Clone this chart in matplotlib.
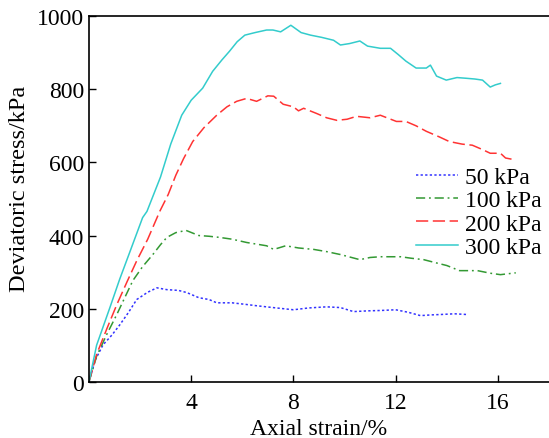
import matplotlib
matplotlib.use("Agg")
import matplotlib.pyplot as plt

plt.rcParams['font.family'] = ['Liberation Serif', 'DejaVu Serif']

labels = ["50 kPa", "100 kPa", "200 kPa", "300 kPa"]

x50 = [0, 0.25, 0.55, 0.9, 1.21, 1.55, 1.87, 2.3, 2.66, 3.05, 3.5, 3.83, 4.3, 4.7, 5.0, 5.6, 6.1, 6.56, 7.2, 7.6, 8.0, 8.6, 9.3, 9.84, 10.35, 10.9, 11.4, 12.0, 12.5, 12.97, 13.4, 13.75, 14.3, 14.8]
y50 = [0, 60, 101, 128, 156, 190, 225, 245, 257, 252, 250, 244, 230, 225, 216, 216, 212, 208, 203, 200, 197, 202, 205, 203, 192, 194, 195, 197, 190, 181, 183, 184, 186, 184]

x100 = [0, 0.3, 0.7, 1.09, 1.4, 1.72, 2.1, 2.5, 2.8, 3.05, 3.4, 3.8, 4.3, 4.7, 5.1, 5.6, 6.17, 6.95, 7.23, 7.7, 8.2, 8.8, 9.3, 9.84, 10.6, 11.0, 11.4, 12.2, 12.6, 13.1, 13.6, 14.0, 14.5, 15.2, 15.7, 16.1, 16.7]
y100 = [0, 70, 130, 184, 230, 277, 315, 348, 375, 395, 408, 414, 400, 398, 395, 390, 381, 372, 362, 372, 366, 362, 356, 348, 334, 340, 342, 342, 338, 334, 325, 318, 304, 304, 297, 293, 298]

x200 = [0, 0.3, 0.7, 1.09, 1.5, 1.87, 2.3, 2.77, 3.1, 3.4, 3.7, 4.06, 4.5, 5.0, 5.4, 5.78, 6.17, 6.56, 7.0, 7.23, 7.6, 8.0, 8.2, 8.4, 8.9, 9.3, 9.7, 10.1, 10.47, 11.0, 11.4, 12.03, 12.4, 12.8, 13.2, 13.7, 14.1, 14.6, 15.0, 15.4, 15.7, 16.1, 16.3, 16.6]
y200 = [0, 75, 145, 211, 275, 331, 390, 466, 512, 565, 610, 657, 695, 729, 752, 767, 775, 767, 782, 781, 759, 752, 741, 748, 734, 722, 715, 718, 726, 722, 729, 712, 712, 700, 685, 670, 657, 650, 647, 635, 625, 625, 612, 608]

x300 = [0, 0.3, 0.82, 1.2, 1.6, 2.1, 2.27, 2.8, 3.2, 3.63, 4.0, 4.45, 4.84, 5.2, 5.5, 5.8, 6.1, 6.5, 6.95, 7.2, 7.5, 7.9, 8.3, 8.67, 9.1, 9.57, 9.84, 10.2, 10.6, 10.9, 11.4, 11.8, 12.1, 12.4, 12.8, 13.2, 13.36, 13.6, 13.98, 14.4, 14.77, 15.1, 15.4, 15.7, 15.9, 16.1]
y300 = [0, 100, 203, 280, 355, 449, 466, 560, 650, 729, 770, 803, 849, 880, 904, 930, 948, 955, 962, 962, 957, 975, 955, 948, 942, 934, 921, 925, 932, 918, 912, 912, 895, 877, 858, 858, 866, 836, 825, 832, 830, 828, 825, 806, 812, 816]

xticks = [4, 8, 12, 16]
yticks = [0, 200, 400, 600, 800, 1000]

fig = plt.figure(figsize=(5.49, 4.39), dpi=100)
ax = fig.add_axes([0.162, 0.128, 0.838, 0.833])

ax.plot(x50, y50, color='#3333ff', lw=1.1, linestyle=(0, (1.5, 1.5)), label=labels[0])
ax.plot(x100, y100, color='#339933', lw=1.1, linestyle=(0, (6, 2.5, 1.2, 2.5)), label=labels[1])
ax.plot(x200, y200, color='#ff3333', lw=1.1, linestyle=(0, (8, 3)), label=labels[2])
ax.plot(x300, y300, color='#33cccc', lw=1.1, linestyle='-', label=labels[3])

ax.set_xlim(0, 18)
ax.set_ylim(0, 1000)
ax.set_xticks(xticks)
ax.set_yticks(yticks)
ax.spines['right'].set_visible(False)
for s in ['left', 'bottom', 'top']:
    ax.spines[s].set_linewidth(1.2)
ax.tick_params(axis='both', direction='in', labelsize=17, length=5, width=1)
ax.tick_params(axis='x', pad=7)
ax.set_xlabel("Axial strain/%", fontsize=17, labelpad=4)
ax.set_ylabel("Deviatoric stress/kPa", fontsize=17.5)
ax.yaxis.set_label_coords(-0.128, 0.53)

leg = ax.legend(loc='upper left', bbox_to_anchor=(0.69, 0.615), frameon=False, fontsize=17,
                handlelength=1.8, handletextpad=0.3, labelspacing=0.08, borderaxespad=0)

fig.savefig("out.png", dpi=100)
